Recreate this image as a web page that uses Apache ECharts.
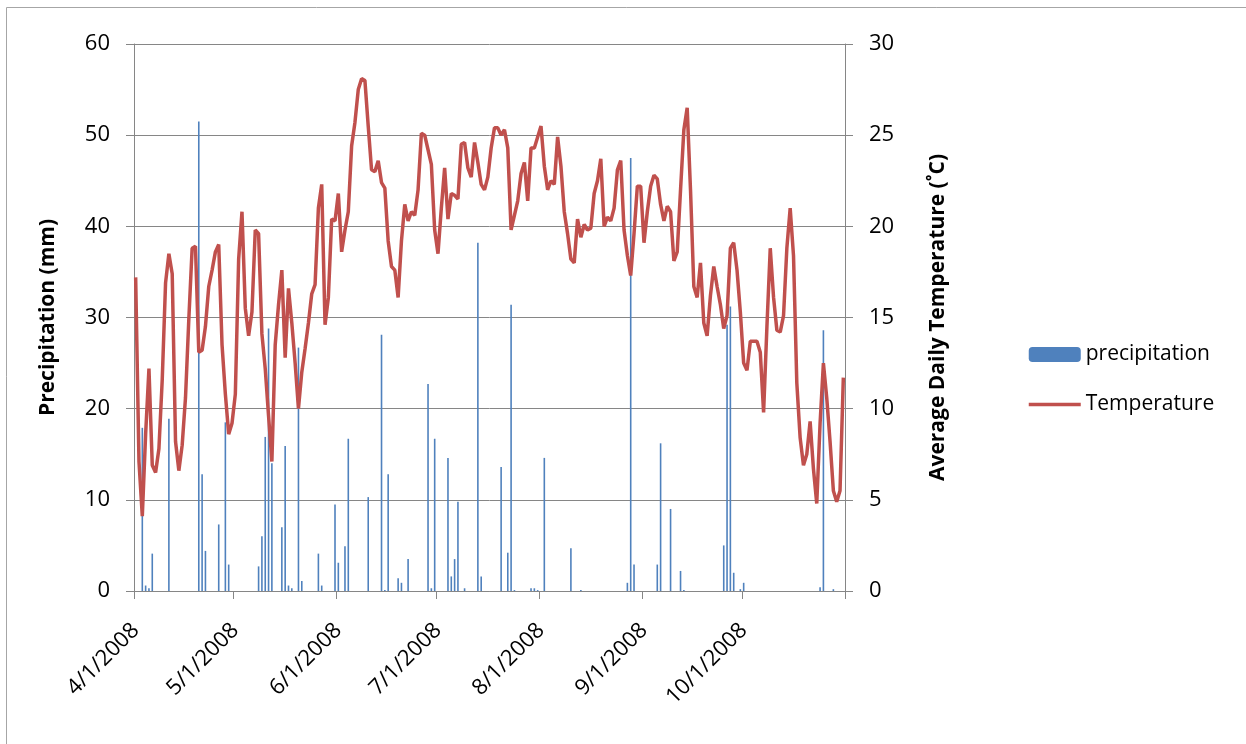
<!DOCTYPE html>
<html><head><meta charset="utf-8">
<script src="https://cdn.jsdelivr.net/npm/echarts@6/dist/echarts.min.js"></script>
<style>html,body{margin:0;padding:0;background:#fff}#c{width:1246px;height:744px}</style>
</head><body><div id="c"></div>
<script>
// Daily data from 4/1/2008 to 10/31/2008
const startYear = 2008, startMonth = 4, startDay = 1;
const dayCount = 214;

// precipitation (mm), one value per day
const precipitation = [
  0,0,17.9,0.6,0.3,4.1,0,0,0,0,
  18.9,0,0,0,0,0,0,0,0,51.5,
  12.8,4.4,0,0,0,7.3,0,18.5,2.9,0,
  0,0,0,0,0,0,0,2.7,6.0,16.9,
  28.8,14.0,0,0,7.0,15.9,0.6,0.3,0,26.7,
  1.1,0,0,0,0,4.1,0.6,0,0,0,
  9.5,3.1,0,4.9,16.7,0,0,0,0,0,
  10.3,0,0,0,28.1,0.1,12.8,0,0,1.4,
  0.9,0,3.5,0,0,0,0,0,22.7,0.3,
  16.7,0,0,0,14.6,1.6,3.5,9.8,0,0.3,
  0,0,0,38.2,1.6,0,0,0,0,0,
  13.6,0,4.2,31.4,0.1,0,0,0,0,0.3,
  0.3,0.1,0,14.6,0,0,0,0,0,0,
  0,4.7,0,0,0.1,0,0,0,0,0,
  0,0,0,0,0,0,0,0,0.9,47.5,
  2.9,0,0,0,0,0,0,2.9,16.2,0,
  0,9.0,0,0,2.2,0.1,0,0,0,0,
  0,0,0,0,0,0,0,5.0,29.2,31.2,
  2.0,0,0.2,0.9,0,0,0,0,0,0,
  0,0,0,0,0,0,0,0,0,0,
  0,0,0,0,0,0,0.4,28.6,0,0,
  0.2,0,0,0
];

// average daily temperature (°C)
const temperature = [
  17.2,7.1,4.1,8.6,12.2,6.9,6.5,7.8,11.6,16.9,
  18.5,17.4,8.2,6.6,8.0,10.6,14.9,18.8,18.9,13.1,
  13.2,14.5,16.7,17.6,18.6,19.0,13.5,10.8,8.6,9.2,
  10.8,18.2,20.8,15.5,14.0,15.3,19.8,19.6,14.1,12.2,
  9.6,7.1,13.5,15.7,17.6,12.8,16.6,14.7,12.5,10.0,
  12.0,13.3,14.7,16.3,16.8,21.0,22.3,14.6,16.1,20.4,
  20.3,21.8,18.6,19.8,20.8,24.4,25.7,27.5,28.1,28.0,
  25.5,23.1,23.0,23.6,22.4,22.1,19.2,17.8,17.6,16.1,
  19.2,21.2,20.3,20.8,20.6,22.0,25.1,25.0,24.2,23.4,
  19.8,18.5,21.0,23.2,20.4,21.8,21.7,21.5,24.5,24.6,
  23.2,22.7,24.6,23.5,22.3,22.0,22.7,24.3,25.4,25.4,
  25.0,25.3,24.3,19.8,20.6,21.4,22.9,23.5,21.4,24.3,
  24.3,24.9,25.5,23.3,22.0,22.5,22.3,24.9,23.3,20.8,
  19.6,18.2,18.0,20.4,19.4,20.1,19.8,19.9,21.8,22.5,
  23.7,20.0,20.5,20.3,21.0,23.1,23.6,19.8,18.4,17.3,
  19.6,22.2,22.2,19.1,20.8,22.2,22.8,22.6,21.2,20.3,
  21.1,20.8,18.1,18.6,22.0,25.3,26.5,22.0,16.7,16.1,
  18.0,14.7,14.0,16.2,17.8,16.7,15.7,14.4,15.1,18.8,
  19.1,17.6,15.3,12.5,12.1,13.7,13.7,13.7,13.1,9.8,
  14.5,18.8,16.1,14.3,14.2,15.1,18.8,21.0,18.4,11.4,
  8.4,6.9,7.5,9.3,6.7,4.8,9.2,12.5,10.6,8.2,
  5.5,4.9,5.5,11.7
];

const seriesNames = ['precipitation', 'Temperature'];
const leftAxisTicks = [0, 10, 20, 30, 40, 50, 60];
const rightAxisTicks = [0, 5, 10, 15, 20, 25, 30];

const categories = [];
for (let i = 0; i < dayCount; i++) {
  const d = new Date(startYear, startMonth - 1, startDay + i);
  categories.push((d.getMonth() + 1) + '/' + d.getDate() + '/' + d.getFullYear());
}
const isMonthStart = (idx, val) => String(val).split('/')[1] === '1';

const FONT = 'Open Sans';
const GRAY = '#868686';

const chart = echarts.init(document.getElementById('c'), null, {renderer: 'canvas'});
chart.setOption({
  animation: false,
  backgroundColor: '#ffffff',
  textStyle: {fontFamily: FONT, color: '#000'},
  graphic: [{
    type: 'rect', silent: true, z: -10,
    shape: {x: 6.5, y: 7.5, width: 1400, height: 900},
    style: {fill: 'none', stroke: '#a6a6a6', lineWidth: 1}
  }],
  grid: {left: 134, right: 401, top: 44, bottom: 153},
  legend: {
    orient: 'vertical', left: 1022, top: 339,
    itemWidth: 52, itemHeight: 15, itemGap: 29,
    data: [
      {name: seriesNames[0]},
      {name: seriesNames[1], itemStyle: {opacity: 0}, lineStyle: {width: 3.5, color: '#C0504D'}}
    ],
    textStyle: {fontFamily: FONT, fontSize: 21, color: '#000'}
  },
  xAxis: {
    type: 'category',
    data: categories,
    boundaryGap: true,
    axisLine: {show: true, lineStyle: {color: GRAY, width: 1}},
    axisTick: {show: true, interval: isMonthStart, length: 8, lineStyle: {color: GRAY}},
    axisLabel: {
      interval: isMonthStart, rotate: 45, margin: 36,
      fontFamily: FONT, fontSize: 22, color: '#000'
    },
    splitLine: {show: false}
  },
  yAxis: [{
    type: 'value', min: leftAxisTicks[0], max: leftAxisTicks[leftAxisTicks.length - 1], interval: leftAxisTicks[1] - leftAxisTicks[0],
    name: 'Precipitation (mm)', nameLocation: 'middle', nameRotate: 90, nameGap: 75,
    nameTextStyle: {fontFamily: FONT, fontSize: 21, fontWeight: 'bold', color: '#000'},
    axisLine: {show: true, lineStyle: {color: GRAY, width: 1}},
    axisTick: {show: true, inside: false, length: 8, lineStyle: {color: GRAY}},
    axisLabel: {margin: 24, fontFamily: FONT, fontSize: 22, color: '#000'},
    splitLine: {show: true, lineStyle: {color: GRAY, width: 1}}
  }, {
    type: 'value', min: rightAxisTicks[0], max: rightAxisTicks[rightAxisTicks.length - 1], interval: rightAxisTicks[1] - rightAxisTicks[0],
    position: 'right',
    name: 'Average Daily Temperature (˚C)', nameLocation: 'middle', nameRotate: 90, nameGap: 83,
    nameTextStyle: {fontFamily: FONT, fontSize: 21, fontWeight: 'bold', color: '#000'},
    axisLine: {show: true, lineStyle: {color: GRAY, width: 1}},
    axisTick: {show: true, inside: false, length: 8, lineStyle: {color: GRAY}},
    axisLabel: {margin: 24, fontFamily: FONT, fontSize: 22, color: '#000'},
    splitLine: {show: false}
  }],
  series: [{
    name: seriesNames[0], type: 'bar', yAxisIndex: 0,
    data: precipitation, barWidth: 1.6,
    itemStyle: {color: '#4F81BD'}
  }, {
    name: seriesNames[1], type: 'line', yAxisIndex: 1,
    data: temperature, symbol: 'none', smooth: false,
    lineStyle: {color: '#C0504D', width: 3.5},
    itemStyle: {color: '#C0504D'}
  }]
});
</script>
</body></html>
